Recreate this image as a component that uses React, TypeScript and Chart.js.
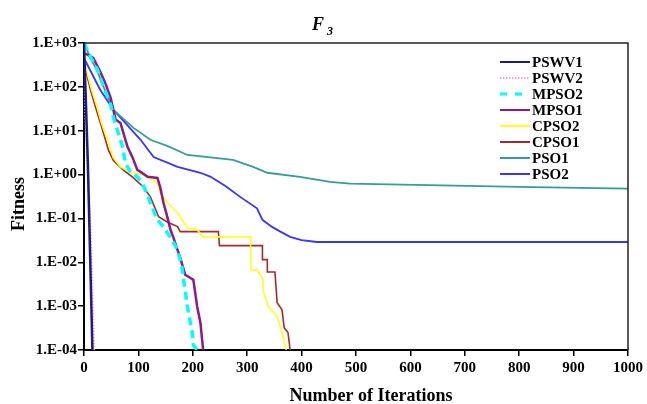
import React, { useEffect, useRef } from "react";
import { Chart, registerables } from "chart.js";

Chart.register(...registerables);

const seriesNames = ["PSWV1", "PSWV2", "MPSO2", "MPSO1", "CPSO2", "CPSO1", "PSO1", "PSO2"];

const pswv1Iter = [0, 7, 15.5];
const pswv1Fit = [1000, 2.0, 1e-4];

const pswv2Iter = [0, 2, 6, 12, 18];
const pswv2Fit = [1000, 50, 2, 0.05, 1e-4];

const mpso2Iter = [0, 12, 25, 36, 49, 54, 63, 71, 76, 85, 98, 107, 118, 126, 135, 146, 162, 172, 180, 183, 190, 199, 201, 208];
const mpso2Fit = [1000, 480, 243, 100, 39, 20, 8.9, 4.3, 1.85, 1.15, 0.89, 0.65, 0.31, 0.17, 0.093, 0.065, 0.032, 0.019, 0.0079, 0.004, 0.00098, 0.00025, 0.00013, 0.0001];

const mpso1Iter = [0, 17, 30, 39, 49, 58, 67, 80, 89, 98, 104, 117, 135, 140, 146, 153, 159, 164, 172, 177, 186, 201, 208, 214, 219];
const mpso1Fit = [600, 460, 220, 123, 56, 18, 15, 4.3, 2.5, 1.28, 1.15, 0.89, 0.84, 0.52, 0.23, 0.11, 0.055, 0.038, 0.019, 0.0126, 0.0052, 0.004, 0.00098, 0.00042, 0.0001];

const cpso2Iter = [0, 14, 24, 32, 43, 54, 67, 85, 109, 135, 140, 153, 172, 183, 190, 208, 219, 306, 307, 318, 328, 330, 339, 355, 361, 372];
const cpso2Fit = [400, 85, 35, 15, 6.2, 2.4, 1.5, 1.15, 0.98, 0.65, 0.38, 0.23, 0.135, 0.083, 0.061, 0.055, 0.038, 0.038, 0.0067, 0.0067, 0.0045, 0.0021, 0.00097, 0.00058, 0.00034, 0.0001];

const cpso1Iter = [0, 12, 21, 34, 45, 54, 72, 91, 109, 122, 137, 153, 172, 177, 247, 249, 328, 328, 337, 337, 351, 355, 364, 368, 375, 379];
const cpso1Fit = [350, 85, 35, 10.5, 3.6, 2.1, 1.28, 0.84, 0.52, 0.31, 0.11, 0.083, 0.065, 0.05, 0.05, 0.024, 0.024, 0.0115, 0.0115, 0.006, 0.006, 0.0012, 0.00083, 0.00032, 0.00025, 0.0001];

const pso1Iter = [0, 12, 25, 36, 54, 91, 122, 153, 190, 274, 311, 337, 397, 452, 489, 825, 1000];
const pso1Fit = [1000, 450, 220, 100, 29.8, 11.6, 6.2, 4.5, 2.8, 2.16, 1.5, 1.1, 0.89, 0.68, 0.62, 0.52, 0.48];

const pso2Iter = [0, 30, 54, 104, 128, 172, 214, 232, 260, 287, 318, 328, 345, 361, 379, 400, 428, 1000];
const pso2Fit = [450, 85, 30, 6.2, 2.5, 1.5, 1.1, 0.9, 0.55, 0.31, 0.17, 0.093, 0.065, 0.05, 0.038, 0.032, 0.029, 0.029];

const yTickValues = [1e-4, 1e-3, 1e-2, 1e-1, 1e0, 1e1, 1e2, 1e3];
const yTickLabels = ["1.E-04", "1.E-03", "1.E-02", "1.E-01", "1.E+00", "1.E+01", "1.E+02", "1.E+03"];
const xTickValues = [0, 100, 200, 300, 400, 500, 600, 700, 800, 900, 1000];
const xTickLabels = ["0", "100", "200", "300", "400", "500", "600", "700", "800", "900", "1000"];

const SERIF = "'Liberation Serif', 'Times New Roman', serif";

const styles = [
  { color: "#1c1c84", width: 2.5, dash: [] as number[] },
  { color: "#ff9cf0", width: 2.5, dash: [1.5, 1.5] },
  { color: "#00ffff", width: 3.5, dash: [8, 5] },
  { color: "#8a1a8a", width: 2.5, dash: [] },
  { color: "#ffff22", width: 1.6, dash: [] },
  { color: "#a52a2a", width: 1.6, dash: [] },
  { color: "#339e99", width: 1.8, dash: [] },
  { color: "#3535ff", width: 1.8, dash: [] },
];

const seriesIter = [pswv1Iter, pswv2Iter, mpso2Iter, mpso1Iter, cpso2Iter, cpso1Iter, pso1Iter, pso2Iter];
const seriesFit = [pswv1Fit, pswv2Fit, mpso2Fit, mpso1Fit, cpso2Fit, cpso1Fit, pso1Fit, pso2Fit];

const decorPlugin = {
  id: "decor",
  afterDraw(chart: any) {
    const { ctx, chartArea } = chart;
    ctx.save();
    // frame top/right
    ctx.strokeStyle = "#222";
    ctx.lineWidth = 1.5;
    ctx.beginPath();
    ctx.moveTo(chartArea.left, chartArea.top);
    ctx.lineTo(chartArea.right, chartArea.top);
    ctx.lineTo(chartArea.right, chartArea.bottom);
    ctx.stroke();

    // title F_3
    ctx.fillStyle = "#000";
    ctx.textBaseline = "alphabetic";
    ctx.textAlign = "left";
    ctx.font = `italic bold 18px ${SERIF}`;
    ctx.fillText("F", 312, 30);
    ctx.font = `italic bold 12px ${SERIF}`;
    ctx.fillText("3", 327, 35);

    // axis titles
    ctx.font = `bold 18px ${SERIF}`;
    ctx.textAlign = "center";
    ctx.textBaseline = "middle";
    ctx.fillText("Number of Iterations", 371, 396);
    ctx.save();
    ctx.translate(19, 204);
    ctx.rotate(-Math.PI / 2);
    ctx.fillText("Fitness", 0, 0);
    ctx.restore();

    // legend
    ctx.font = `bold 15px ${SERIF}`;
    ctx.textAlign = "left";
    ctx.textBaseline = "middle";
    chart.data.datasets.forEach((ds: any, i: number) => {
      const y = 62 + i * 16;
      ctx.save();
      ctx.strokeStyle = ds.borderColor;
      ctx.lineWidth = i === 2 ? 3 : 2;
      ctx.setLineDash(i === 2 ? [7, 8] : i === 1 ? [1.5, 1.5] : []);
      ctx.beginPath();
      ctx.moveTo(500, y);
      ctx.lineTo(530, y);
      ctx.stroke();
      ctx.restore();
      ctx.fillStyle = "#000";
      ctx.fillText(ds.label, 532, y + 1);
    });
    ctx.restore();
  },
};

export default function App() {
  const canvasRef = useRef<HTMLCanvasElement | null>(null);

  useEffect(() => {
    document.body.style.margin = "0";
    const canvas = canvasRef.current;
    if (!canvas) return;
    const datasets = seriesNames.map((name, i) => ({
      label: name,
      data: seriesIter[i].map((x, j) => ({ x, y: seriesFit[i][j] })),
      borderColor: styles[i].color,
      backgroundColor: styles[i].color,
      borderWidth: styles[i].width,
      borderDash: styles[i].dash,
      pointRadius: 0,
      tension: 0,
      fill: false,
    }));
    const chart = new Chart(canvas, {
      type: "line",
      data: { datasets },
      options: {
        responsive: false,
        animation: false,
        devicePixelRatio: 1,
        parsing: true,
        layout: { padding: { left: 0, right: 19, top: 43, bottom: 0 } },
        plugins: {
          legend: { display: false },
          title: { display: false },
          tooltip: { enabled: false },
        },
        scales: {
          x: {
            type: "linear",
            min: 0,
            max: 1000,
            afterFit: (s: any) => {
              s.height = 54;
            },
            afterBuildTicks: (s: any) => {
              s.ticks = xTickValues.map((v) => ({ value: v }));
            },
            ticks: {
              color: "#000",
              padding: 3,
              maxRotation: 0,
              autoSkip: false,
              font: { family: SERIF, size: 15, weight: "bold" },
              callback: (_v: any, i: number) => xTickLabels[i],
            },
            grid: { drawOnChartArea: false, drawTicks: true, tickLength: 6, color: "#000", lineWidth: 1.5 },
            border: { display: true, color: "#000", width: 2 },
          },
          y: {
            type: "logarithmic",
            min: 1e-4,
            max: 1e3,
            afterFit: (s: any) => {
              s.width = 84;
            },
            afterBuildTicks: (s: any) => {
              s.ticks = yTickValues.map((v) => ({ value: v }));
            },
            ticks: {
              color: "#000",
              padding: 1,
              autoSkip: false,
              font: { family: SERIF, size: 15, weight: "bold" },
              callback: (_v: any, i: number) => yTickLabels[i],
            },
            grid: { drawOnChartArea: false, drawTicks: true, tickLength: 6, color: "#000", lineWidth: 1.5 },
            border: { display: true, color: "#000", width: 2 },
          },
        },
      },
      plugins: [decorPlugin],
    } as any);
    return () => chart.destroy();
  }, []);

  return (
    <div style={{ position: "fixed", left: 0, top: 0, width: 647, height: 404, background: "#fff" }}>
      <canvas ref={canvasRef} width={647} height={404} style={{ width: 647, height: 404, display: "block" }} />
    </div>
  );
}
